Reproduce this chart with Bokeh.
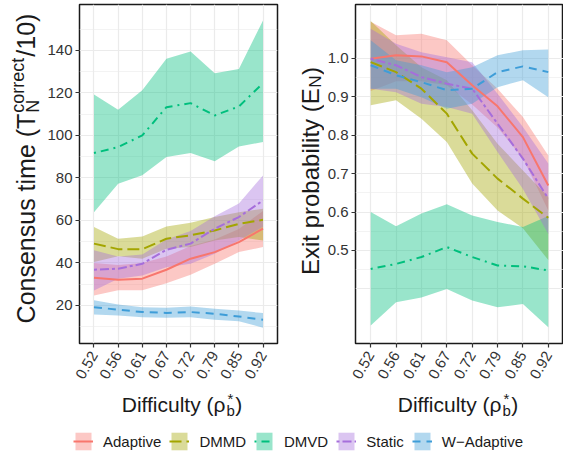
import math
from bokeh.plotting import figure
from bokeh.models import Range1d, FixedTicker, Label, Legend, LegendItem, PrintfTickFormatter
from bokeh.layouts import row, column
from bokeh.embed import file_html
from bokeh.resources import INLINE

# ---------------- data ----------------
difficulty = ["0.52", "0.56", "0.61", "0.67", "0.72", "0.79", "0.85", "0.92"]
series = ["Adaptive", "DMMD", "DMVD", "Static", "W\u2212Adaptive"]

# Consensus time (T_N^correct / 10): mean, lower, upper
adaptive_time = [33.0, 32.1, 32.6, 36.8, 42.0, 45.1, 49.8, 56.1]
adaptive_time_lo = [24.7, 27.1, 27.1, 30.5, 34.5, 39.6, 45.1, 47.5]
adaptive_time_hi = [40.0, 39.0, 40.0, 43.0, 48.0, 51.0, 56.0, 64.5]
dmmd_time = [49.1, 46.5, 46.5, 51.4, 53.0, 55.3, 58.4, 60.3]
dmmd_time_lo = [40.4, 43.1, 42.0, 46.7, 47.5, 50.6, 52.2, 50.6]
dmmd_time_hi = [56.9, 51.4, 52.5, 57.2, 58.9, 61.6, 63.9, 65.5]
dmvd_time = [91.7, 94.5, 100.0, 113.3, 115.2, 109.4, 113.6, 124.6]
dmvd_time_lo = [63.9, 77.3, 81.3, 89.8, 91.7, 87.8, 94.8, 96.9]
dmvd_time_hi = [119.3, 112.1, 121.2, 136.1, 139.5, 129.3, 131.2, 154.1]
static_time = [36.8, 37.3, 39.6, 46.2, 49.1, 56.1, 61.6, 69.4]
static_time_lo = [27.0, 32.6, 34.1, 38.0, 39.6, 44.3, 50.6, 57.0]
static_time_hi = [46.0, 43.0, 44.0, 51.0, 55.0, 62.0, 68.0, 81.2]
wadaptive_time = [19.2, 18.0, 16.9, 16.5, 16.9, 16.1, 14.8, 13.3]
wadaptive_time_lo = [15.8, 15.3, 14.5, 14.2, 14.5, 13.3, 12.6, 9.5]
wadaptive_time_hi = [22.4, 20.5, 19.2, 18.9, 19.5, 18.4, 17.6, 16.4]

# Exit probability (E_N): mean, lower, upper
adaptive_exit = [0.999, 1.008, 1.005, 0.990, 0.930, 0.875, 0.795, 0.669]
adaptive_exit_lo = [0.915, 0.940, 0.940, 0.930, 0.880, 0.820, 0.740, 0.604]
adaptive_exit_hi = [1.095, 1.060, 1.064, 1.047, 0.982, 0.921, 0.847, 0.747]
dmmd_exit = [0.990, 0.964, 0.921, 0.856, 0.752, 0.687, 0.635, 0.585]
dmmd_exit_lo = [0.878, 0.891, 0.843, 0.782, 0.674, 0.604, 0.558, 0.475]
dmmd_exit_hi = [1.097, 1.034, 0.977, 0.943, 0.865, 0.778, 0.708, 0.639]
dmvd_exit = [0.452, 0.465, 0.483, 0.509, 0.483, 0.461, 0.459, 0.448]
dmvd_exit_lo = [0.305, 0.365, 0.378, 0.400, 0.370, 0.352, 0.361, 0.300]
dmvd_exit_hi = [0.600, 0.563, 0.596, 0.620, 0.591, 0.574, 0.561, 0.590]
static_exit = [0.999, 0.982, 0.951, 0.934, 0.921, 0.830, 0.739, 0.635]
static_exit_lo = [0.921, 0.912, 0.882, 0.873, 0.856, 0.756, 0.660, 0.543]
static_exit_hi = [1.077, 1.038, 1.016, 1.003, 0.990, 0.908, 0.821, 0.726]
wadaptive_exit = [0.982, 0.956, 0.938, 0.917, 0.921, 0.964, 0.979, 0.964]
wadaptive_exit_lo = [0.921, 0.921, 0.899, 0.869, 0.882, 0.925, 0.943, 0.899]
wadaptive_exit_hi = [1.047, 0.995, 0.982, 0.964, 0.977, 1.008, 1.021, 1.023]

time_ticks = [20, 40, 60, 80, 100, 120, 140]
time_grid_major = [20, 40, 60, 80, 100, 120, 140]
time_grid_minor = [10, 30, 50, 70, 90, 110, 130, 150]
exit_ticks = [0.5, 0.6, 0.7, 0.8, 0.9, 1.0]
exit_grid_major = [0.4, 0.5, 0.6, 0.7, 0.8, 0.9, 1.0]
exit_grid_minor = [0.45, 0.55, 0.65, 0.75, 0.85, 0.95, 1.05]

# ---------------- styles ----------------
colors = ["#F8766D", "#A3A500", "#00BF7D", "#A66EDB", "#3E9DD8"]
dashes = ["solid", "12 5", "2 5 8 5", "3 3 9 3", "8 6"]
FONT = "Liberation Sans"
TXT = "#333333"
INK = "#1a1a1a"
BSHIFT = 0.3  # label anchor -> glyph baseline offset (fraction of font size)

xpos = list(range(1, len(difficulty) + 1))

time_sets = [
    (adaptive_time, adaptive_time_lo, adaptive_time_hi),
    (dmmd_time, dmmd_time_lo, dmmd_time_hi),
    (dmvd_time, dmvd_time_lo, dmvd_time_hi),
    (static_time, static_time_lo, static_time_hi),
    (wadaptive_time, wadaptive_time_lo, wadaptive_time_hi),
]
exit_sets = [
    (adaptive_exit, adaptive_exit_lo, adaptive_exit_hi),
    (dmmd_exit, dmmd_exit_lo, dmmd_exit_hi),
    (dmvd_exit, dmvd_exit_lo, dmvd_exit_hi),
    (static_exit, static_exit_lo, static_exit_hi),
    (wadaptive_exit, wadaptive_exit_lo, wadaptive_exit_hi),
]

# approximate Arial / Liberation Sans advance widths (em)
CW = {" ": .278, "(": .333, ")": .333, "/": .278, "*": .389, "0": .556, "1": .556,
      "A": .667, "C": .722, "D": .722, "E": .667, "N": .722, "T": .611,
      "a": .556, "b": .556, "c": .5, "e": .556, "f": .278, "i": .222, "l": .222,
      "m": .833, "n": .556, "o": .556, "p": .556, "r": .333, "s": .5, "t": .278,
      "u": .556, "x": .5, "y": .5, "\u03c1": .575}


def tw(s, size):
    return sum(CW.get(c, .556) for c in s) * size


def lab(p, x, y, text, size, angle=0.0):
    p.add_layout(Label(x=x, y=y, x_units="screen", y_units="screen", text=text,
                       text_font=FONT, text_font_size=f"{size}px", text_color=INK,
                       angle=angle, text_align="left", text_baseline="alphabetic"))


def vlab(p, base_x, y, text, size):
    # rotated text reading upwards, glyph baseline at base_x
    lab(p, base_x - BSHIFT * size, y, text, size, math.pi / 2)


def hlab(p, x, base_y, text, size):
    lab(p, x, base_y + BSHIFT * size, text, size)


def blank(width, height, xr=(0, 1)):
    f = figure(width=width, height=height, x_range=Range1d(*xr), y_range=Range1d(0, 1),
               toolbar_location=None, output_backend="svg", min_border=0,
               x_axis_location=None, y_axis_location=None)
    f.outline_line_color = None
    f.grid.visible = False
    f.background_fill_color = "white"
    f.border_fill_color = "white"
    return f


H_TOP = 386
FRAME_TOP, FRAME_BOT = 4, 343


def make_panel(width, left, right, sets, yr, ticks, gmaj, gmin, fmt):
    p = figure(width=width, height=H_TOP, x_range=Range1d(0.4, len(difficulty) + 0.6),
               y_range=Range1d(*yr), toolbar_location=None, output_backend="svg",
               min_border_left=left, min_border_right=right, min_border_top=FRAME_TOP,
               min_border_bottom=H_TOP - FRAME_BOT)
    p.background_fill_color = "white"
    p.border_fill_color = "white"
    p.outline_line_color = INK
    p.outline_line_width = 1.5

    xt = FixedTicker(ticks=xpos, minor_ticks=[])
    p.xaxis.ticker = xt
    p.xaxis.major_label_overrides = {xv: d for xv, d in zip(xpos, difficulty)}
    p.xaxis.major_label_orientation = math.pi / 3
    p.yaxis.ticker = FixedTicker(ticks=ticks, minor_ticks=[])
    if fmt:
        p.yaxis.formatter = PrintfTickFormatter(format=fmt)
    for ax in (p.xaxis, p.yaxis):
        ax.axis_line_color = None
        ax.major_tick_line_color = TXT
        ax.major_tick_line_width = 1.2
        ax.major_tick_out = 4
        ax.major_tick_in = 0
        ax.minor_tick_line_color = None
        ax.major_label_text_font = FONT
        ax.major_label_text_font_size = "15px"
        ax.major_label_text_color = TXT
        ax.major_label_standoff = 3
    p.xaxis.major_label_standoff = 5

    p.xgrid.ticker = xt
    p.xgrid.grid_line_color = "#EBEBEB"
    p.xgrid.grid_line_width = 1.2
    p.ygrid.ticker = FixedTicker(ticks=gmaj, minor_ticks=gmin)
    p.ygrid.grid_line_color = "#EBEBEB"
    p.ygrid.grid_line_width = 1.2
    p.ygrid.minor_grid_line_color = "#EBEBEB"
    p.ygrid.minor_grid_line_width = 0.6

    for (mean, lo, hi), c in zip(sets, colors):
        p.varea(x=xpos, y1=lo, y2=hi, fill_color=c, fill_alpha=0.4)
    for (mean, lo, hi), c, d in zip(sets, colors, dashes):
        p.line(x=xpos, y=mean, line_color=c, line_width=2, line_dash=d)
    return p


# window layout: t1 0..44 | p1 44..280 (frame 78..277) | t2 280..324 | p2 324..563 (frame 353..563)
t1 = blank(44, H_TOP)
p1 = make_panel(236, 34, 3, time_sets, (2.1, 161.6), time_ticks,
                time_grid_major, time_grid_minor, None)
t2 = blank(44, H_TOP)
p2 = make_panel(239, 29, 0, exit_sets, (0.258, 1.14), exit_ticks,
                exit_grid_major, exit_grid_minor, "%.1f")

# the title strips' frames are aligned with the panels' frames (window y 4..343)
# left y title: baseline at window x 33, centred at window y 169
F, S = 25, 18
main, sup, sub, tail = "Consensus time (T", "correct", "N", "/10)"
w_scr = max(tw(sup, S), tw(sub, S))
total = tw(main, F) + w_scr + tw(tail, F)
y0 = (FRAME_BOT - 169) - total / 2
vlab(t1, 33, y0, main, F)
vlab(t1, 23, y0 + tw(main, F) + 1, sup, S)
vlab(t1, 38, y0 + tw(main, F) + 1, sub, S)
vlab(t1, 33, y0 + tw(main, F) + w_scr + 2, tail, F)

# right y title: baseline at window x 317, centred at window y 171
F2, S2 = 24, 17
main2 = "Exit probability (E"
total2 = tw(main2, F2) + tw("N", S2) + tw(")", F2)
y2 = (FRAME_BOT - 171) - total2 / 2
vlab(t2, 317 - 280, y2, main2, F2)
vlab(t2, 320 - 280, y2 + tw(main2, F2) + 0.5, "N", S2)
vlab(t2, 317 - 280, y2 + tw(main2, F2) + tw("N", S2) + 1, ")", F2)

# bottom strip: x titles + legend (window y H_TOP..454); x range keeps proxies off-canvas
H_BOT = 454 - H_TOP
pb = blank(563, H_BOT, xr=(-2, -1))


def x_title(p, cx, base):
    F, S = 21, 15
    m = "Difficulty (\u03c1"
    w_main = tw(m, F)
    w_s = max(tw("b", S), tw("*", S))
    tot = w_main + w_s + tw(")", F)
    x0 = cx - tot / 2
    hlab(p, x0, base, m, F)
    hlab(p, x0 + w_main + 0.5, base - 4, "b", S)
    hlab(p, x0 + w_main + 1.5, base + 8, "*", S)
    hlab(p, x0 + w_main + w_s + 1, base, ")", F)


x_title(pb, 181, 454 - 410)
x_title(pb, 457, 454 - 410)

items = []
for name, (mean, lo, hi), c, d in zip(series, exit_sets, colors, dashes):
    va = pb.varea(x=xpos, y1=lo, y2=hi, fill_color=c, fill_alpha=0.4)
    ln = pb.line(x=xpos, y=mean, line_color=c, line_width=2, line_dash=d)
    items.append(LegendItem(label=name, renderers=[va, ln]))
legend = Legend(items=items, orientation="horizontal", location=(73, 2),
                glyph_width=20, glyph_height=22, label_height=22, label_standoff=10,
                spacing=8, padding=0, margin=0, border_line_color=None,
                background_fill_alpha=0, label_text_font=FONT,
                label_text_font_size="15px", label_text_color=INK)
pb.add_layout(legend)

layout = column(row(t1, p1, t2, p2), pb)
open("out.html", "w").write(file_html(layout, INLINE))
